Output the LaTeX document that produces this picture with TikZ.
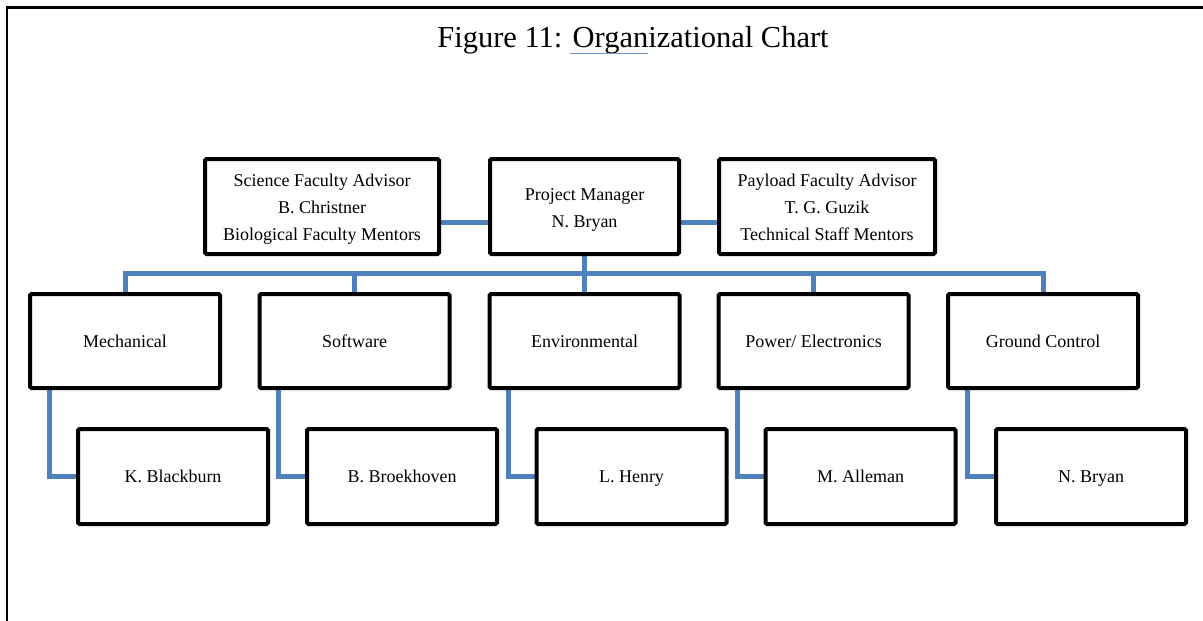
\documentclass[tikz,border=0pt]{standalone}
\usepackage{fontspec}
\setmainfont{Liberation Serif}
\usetikzlibrary{calc,backgrounds}
\definecolor{connblue}{RGB}{79,129,189}
\definecolor{squig}{RGB}{110,145,205}
\newcommand{\topstrut}{\rule{0pt}{23pt}}
\tikzset{
  box/.style={draw=black, line width=4pt, rounded corners=1.5pt, fill=white, align=center,
    inner sep=0pt, font=\fontsize{18}{27}\selectfont},
  rowbox/.style={box, minimum width=190pt, minimum height=94pt, text height=12pt, text depth=0pt},
  conn/.style={draw=connblue, line width=5pt},
  frameline/.style={draw=black, line width=2.5pt}
}
\begin{document}
\begin{tikzpicture}[x=1pt,y=-1pt]
\useasboundingbox (0,0) rectangle (1203,621);
\draw[frameline] (7,621) -- (7,7.5) -- (1203,7.5);
% title
\node[anchor=base, inner sep=0pt, font=\fontsize{30.5}{36}\selectfont] (title) at (633,47) {Figure 11: Organizational Chart};
\draw[squig, line width=1.5pt] (570,53.5) -- (608,53.5);
\draw[squig, line width=1.5pt] (611,53.5) -- (648,53.5);
\coordinate (bus) at (584.5,273.5);
% top row
\node[box, minimum width=234pt, minimum height=95pt] (sci) at (322,206.5) {\topstrut Science Faculty Advisor\\\strut B. Christner\\\strut Biological Faculty Mentors};
\node[box, minimum width=189pt, minimum height=95pt] (pm) at (584.5,206.5) {\topstrut Project Manager\\\strut N. Bryan};
\node[box, minimum width=216pt, minimum height=95pt] (pay) at (827,206.5) {\topstrut Payload Faculty Advisor\\\strut T. G. Guzik\\\strut Technical Staff Mentors};
% second row
\node[rowbox] (m1) at (125,341) {Mechanical};
\node[rowbox] (m2) at (354.5,341) {Software};
\node[rowbox] (m3) at (584.5,341) {Environmental};
\node[rowbox] (m4) at (813.5,341) {Power/ Electronics};
\node[rowbox] (m5) at (1043,341) {Ground Control};
% third row
\node[rowbox, minimum height=95pt] (p1) at (173,476.5) {K. Blackburn};
\node[rowbox, minimum height=95pt] (p2) at (402,476.5) {B. Broekhoven};
\node[rowbox, minimum height=95pt] (p3) at (631.5,476.5) {L. Henry};
\node[rowbox, minimum height=95pt] (p4) at (860.5,476.5) {M. Alleman};
\node[rowbox, minimum height=95pt] (p5) at (1091,476.5) {N. Bryan};
% connectors behind boxes
\begin{pgfonlayer}{background}
  \coordinate (lk) at ($(pm.west)+(0,15.5)$);
  \coordinate (rk) at ($(pm.east)+(0,15.5)$);
  \draw[conn] (sci.east |- lk) -- (lk);
  \draw[conn] (rk) -- (pay.west |- rk);
  \draw[conn] (pm.south) -- (m3.north);
  \draw[conn] (m1.north) -- (m1.north |- bus) -- (m5.north |- bus) -- (m5.north);
  \draw[conn] (m2.north) -- (m2.north |- bus);
  \draw[conn] (m4.north) -- (m4.north |- bus);
  \foreach \i in {1,...,5} {
    \draw[conn] ($(m\i.south west)+(21,0)$) |- (p\i.west);
  }
\end{pgfonlayer}
\end{tikzpicture}
\end{document}
